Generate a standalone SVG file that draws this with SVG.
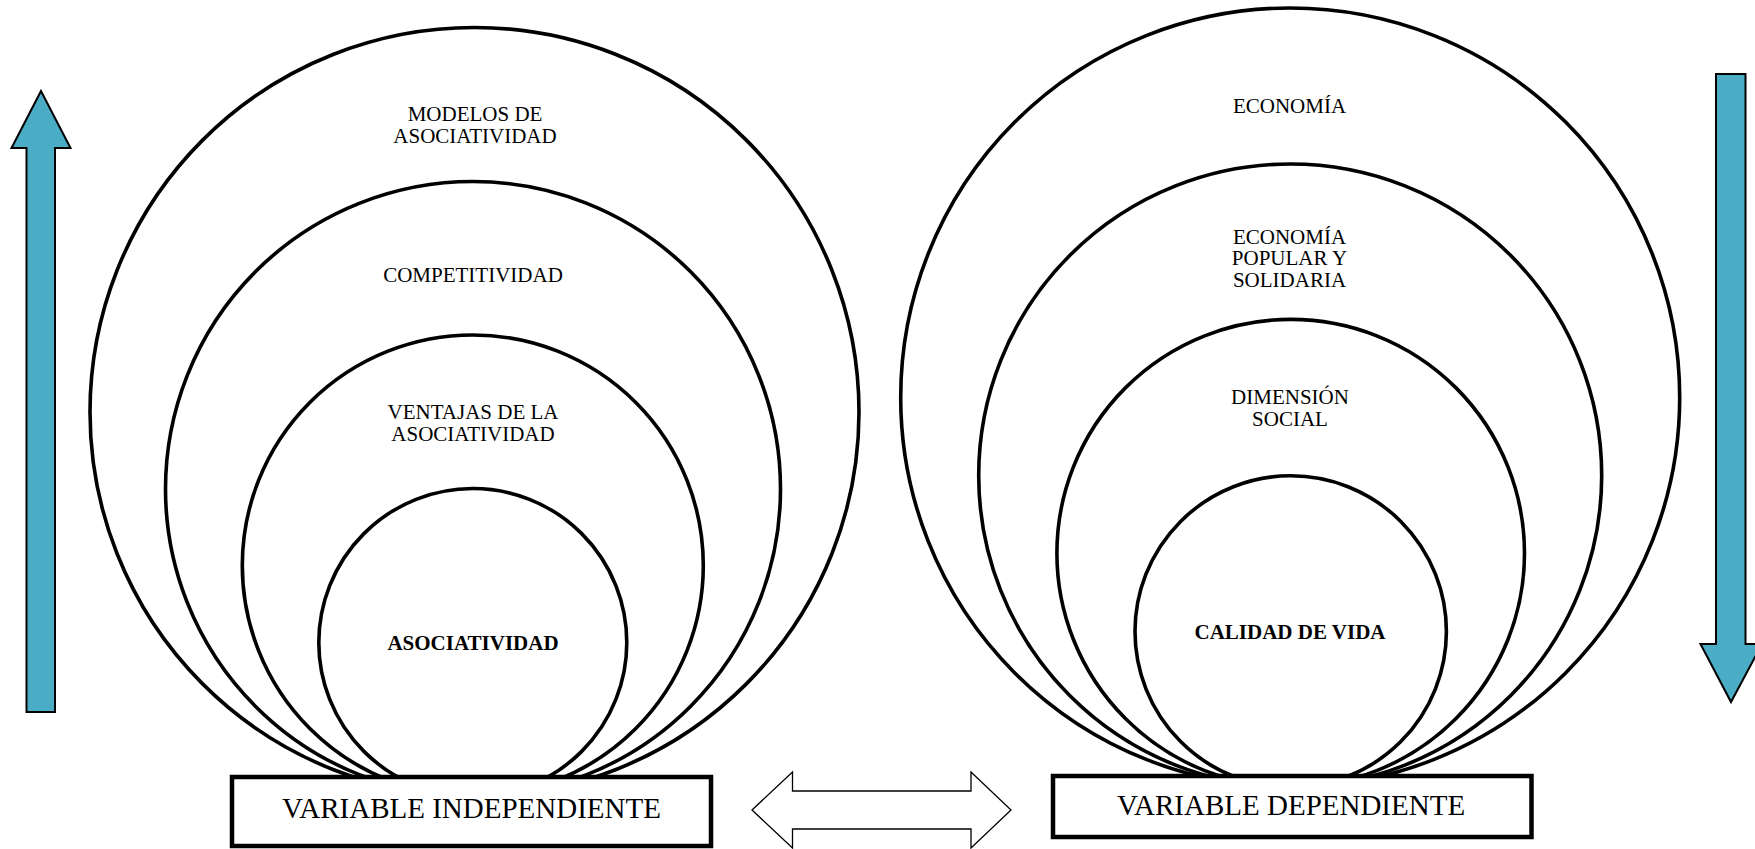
<svg xmlns="http://www.w3.org/2000/svg" width="1755" height="849" viewBox="0 0 1755 849">
<style>
.ring{fill:none;stroke:#000;stroke-width:3.6}
.box{fill:#fff;stroke:#000;stroke-width:4.5}
.lbl{font-family:"Liberation Serif","Times New Roman","DejaVu Serif",serif;font-size:21px;fill:#000;text-anchor:middle}
.b{font-weight:bold}
.var{font-family:"Liberation Serif","Times New Roman","DejaVu Serif",serif;font-size:29px;fill:#000;text-anchor:middle}
.blue{fill:#4BACC6;stroke:#000;stroke-width:2}
.dbl{fill:#fff;stroke:#000;stroke-width:1.3}
</style>
<rect width="1755" height="849" fill="#fff"/>
<g id="arrow-up">
<polygon class="blue" points="41,91 70.5,148 55,148 55,712 26.5,712 26.5,148 11.5,148"/>
</g>
<g id="arrow-down">
<polygon class="blue" points="1716,74 1745.5,74 1745.5,644 1762,644 1731,702 1700.5,644 1716,644"/>
</g>
<g id="left-circles">
<g id="modelos">
<circle class="ring" cx="474.5" cy="412" r="384.5"/>
<text class="lbl" x="475" y="120.5">MODELOS DE</text>
<text class="lbl" x="475" y="142.5">ASOCIATIVIDAD</text>
</g>
<g id="competitividad">
<circle class="ring" cx="473" cy="489" r="307.5"/>
<text class="lbl" x="473" y="281.5">COMPETITIVIDAD</text>
</g>
<g id="ventajas">
<circle class="ring" cx="472.8" cy="565.5" r="230.5"/>
<text class="lbl" x="473" y="418.5">VENTAJAS DE LA</text>
<text class="lbl" x="473" y="440.5">ASOCIATIVIDAD</text>
</g>
<g id="asociatividad">
<circle class="ring" cx="472.8" cy="642.5" r="154"/>
<text class="lbl b" x="473" y="649.5">ASOCIATIVIDAD</text>
</g>
</g>
<g id="right-circles">
<g id="economia">
<circle class="ring" cx="1290.2" cy="397.5" r="389.5"/>
<text class="lbl" x="1289.5" y="113">ECONOMÍA</text>
</g>
<g id="eps">
<circle class="ring" cx="1290.2" cy="475.5" r="311.5"/>
<text class="lbl" x="1289.5" y="243.5">ECONOMÍA</text>
<text class="lbl" x="1289.5" y="265">POPULAR Y</text>
<text class="lbl" x="1289.5" y="287">SOLIDARIA</text>
</g>
<g id="dimension">
<circle class="ring" cx="1290.7" cy="553.2" r="233.8"/>
<text class="lbl" x="1290" y="404">DIMENSIÓN</text>
<text class="lbl" x="1290" y="425.5">SOCIAL</text>
</g>
<g id="calidad">
<circle class="ring" cx="1290.7" cy="631.5" r="155.7"/>
<text class="lbl b" x="1290" y="638.5">CALIDAD DE VIDA</text>
</g>
</g>
<g id="var-independiente">
<rect class="box" x="232" y="777" width="479" height="69"/>
<text class="var" x="471.5" y="818">VARIABLE INDEPENDIENTE</text>
</g>
<g id="var-dependiente">
<rect class="box" x="1053" y="776" width="478.5" height="61"/>
<text class="var" x="1291" y="814.5">VARIABLE DEPENDIENTE</text>
</g>
<g id="connectors">
<polygon class="dbl" points="752,810 792.5,772 792.5,791 971,791 971,772 1011,810 971,848 971,829 792.5,829 792.5,848"/>
</g>
</svg>
